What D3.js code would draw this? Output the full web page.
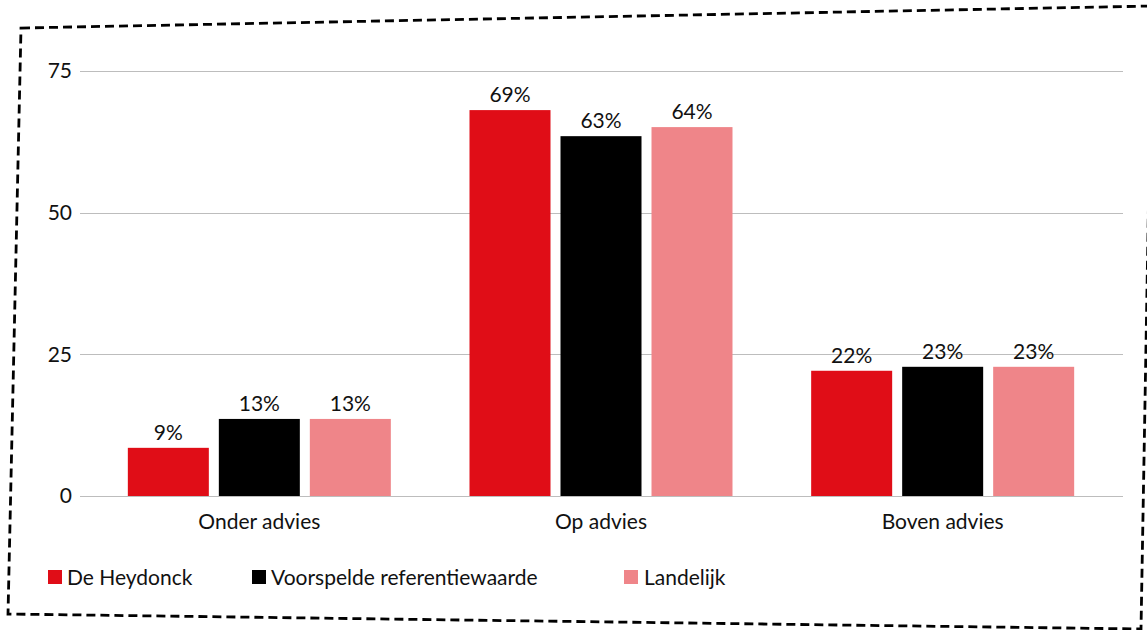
<!DOCTYPE html>
<html>
<head>
<meta charset="utf-8">
<script src="https://cdn.jsdelivr.net/npm/d3@7"></script>
<style>
  body { margin: 0; background: #fff; }
  svg { display: block; font-family: Lato, sans-serif; }
</style>
</head>
<body>
<div id="chart"></div>
<script>
// Data
const categories = ['Onder advies', 'Op advies', 'Boven advies'];
const series = ['De Heydonck', 'Voorspelde referentiewaarde', 'Landelijk'];
const colors = ['#e00d17', '#000000', '#ef8589'];
const heydonck = [8.5, 68.1, 22.1];
const referentie = [13.6, 63.5, 22.8];
const landelijk = [13.6, 65.1, 22.8];
const heydonckLabels = ['9%', '69%', '22%'];
const referentieLabels = ['13%', '63%', '23%'];
const landelijkLabels = ['13%', '64%', '23%'];
const yTicks = [0, 25, 50, 75];

const values = [heydonck, referentie, landelijk];
const labels = [heydonckLabels, referentieLabels, landelijkLabels];

const width = 1147, height = 630;
const fontSize = 21;

const svg = d3.select('#chart')
  .append('svg')
  .attr('width', width)
  .attr('height', height);

// Dashed, slightly skewed frame
svg.append('path')
  .attr('d', 'M21,28 L1152,6 L1141,629 L8,614 Z')
  .attr('fill', 'none')
  .attr('stroke', '#000')
  .attr('stroke-width', 2.8)
  .attr('stroke-dasharray', '9,5');

// Scales
const y = d3.scaleLinear()
  .domain([0, 75])
  .range([496, 71]);

const x = d3.scaleBand()
  .domain(categories)
  .range([88.5, 1113.5]);

const groupWidth = 263;
const xSub = d3.scaleBand()
  .domain(series)
  .range([(x.bandwidth() - groupWidth) / 2, (x.bandwidth() + groupWidth) / 2])
  .paddingInner(10 / 91);

// Gridlines
svg.append('g')
  .selectAll('line')
  .data(yTicks)
  .enter()
  .append('line')
  .attr('x1', 80)
  .attr('x2', 1123)
  .attr('y1', d => Math.round(y(d)) + 0.5)
  .attr('y2', d => Math.round(y(d)) + 0.5)
  .attr('stroke', '#bdbdbd')
  .attr('stroke-width', 1);

// Y axis labels
const yAxis = d3.axisLeft(y).tickValues(yTicks).tickSize(0).tickPadding(0);
svg.append('g')
  .attr('transform', 'translate(72,0)')
  .call(yAxis)
  .call(g => g.select('.domain').remove())
  .selectAll('text')
  .attr('font-family', 'Lato, sans-serif')
  .attr('font-size', fontSize)
  .attr('fill', '#111');

// X axis labels
const xAxis = d3.axisBottom(x).tickSize(0).tickPadding(0);
svg.append('g')
  .attr('transform', 'translate(0,514)')
  .call(xAxis)
  .call(g => g.select('.domain').remove())
  .selectAll('text')
  .attr('font-family', 'Lato, sans-serif')
  .attr('font-size', fontSize)
  .attr('fill', '#111');

// Bars
const groups = svg.append('g')
  .selectAll('g')
  .data(categories)
  .enter()
  .append('g')
  .attr('transform', d => `translate(${x(d)},0)`);

series.forEach((s, si) => {
  groups.append('rect')
    .attr('x', xSub(s))
    .attr('width', xSub.bandwidth())
    .attr('y', (d, ci) => y(values[si][ci]))
    .attr('height', (d, ci) => y(0) - y(values[si][ci]))
    .attr('fill', colors[si]);

  groups.append('text')
    .attr('x', xSub(s) + xSub.bandwidth() / 2)
    .attr('y', (d, ci) => y(values[si][ci]) - 8)
    .attr('text-anchor', 'middle')
    .attr('font-size', fontSize)
    .attr('fill', '#111')
    .text((d, ci) => labels[si][ci]);
});

// Legend
const legendX = [48, 252, 624];
const legend = svg.append('g')
  .selectAll('g')
  .data(series)
  .enter()
  .append('g')
  .attr('transform', (d, i) => `translate(${legendX[i]},570)`);

legend.append('rect')
  .attr('width', 14)
  .attr('height', 14)
  .attr('fill', (d, i) => colors[i]);

legend.append('text')
  .attr('x', (d, i) => i === 2 ? 20 : 19)
  .attr('y', 15)
  .attr('font-size', fontSize)
  .attr('fill', '#111')
  .text(d => d);
</script>
</body>
</html>
